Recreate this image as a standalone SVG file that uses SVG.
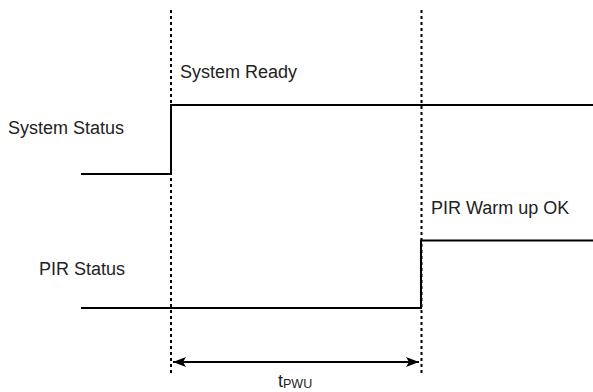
<svg xmlns="http://www.w3.org/2000/svg" width="593" height="392" viewBox="0 0 593 392">
<style>
.sig{fill:none;stroke:#000;stroke-width:2}
.dash{fill:none;stroke:#000;stroke-width:2;stroke-dasharray:3 3}
.lbl{font-family:"Liberation Sans",Arial,sans-serif;font-size:18px;fill:#222}
.sub{font-size:12.5px}
</style>
<defs>
<marker id="ah" viewBox="0 0 13 10" refX="13" refY="5" markerWidth="13" markerHeight="10" markerUnits="userSpaceOnUse" orient="auto-start-reverse">
<path d="M0,0 L13,5 L0,10 L3,5 Z" fill="#000"/>
</marker>
</defs>
<g id="connectors">
<line class="dash" x1="171" y1="10" x2="171" y2="374"/>
<line class="dash" x1="421.5" y1="10" x2="421.5" y2="374"/>
<path id="system-status-wave" class="sig" d="M81,174 H171 V105 H593"/>
<path id="pir-status-wave" class="sig" d="M81,308 H421 V240.5 H593"/>
<line id="tpwu-arrow" class="sig" x1="173" y1="362" x2="419" y2="362" marker-start="url(#ah)" marker-end="url(#ah)"/>
</g>
<g id="system-status"><text class="lbl" x="8" y="134">System Status</text></g>
<g id="system-ready"><text class="lbl" x="180" y="78">System Ready</text></g>
<g id="pir-status"><text class="lbl" x="39" y="275">PIR Status</text></g>
<g id="pir-warm-up-ok"><text class="lbl" x="431" y="214">PIR Warm up OK</text></g>
<g id="tpwu"><text class="lbl" x="278" y="387">t<tspan class="sub" dy="1">PWU</tspan></text></g>
</svg>
